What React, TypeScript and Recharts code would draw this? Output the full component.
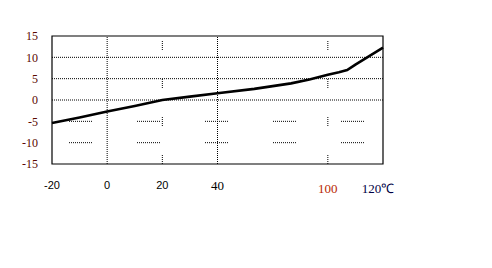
import React from "react";
import {
  LineChart,
  Line,
  XAxis,
  YAxis,
  ReferenceLine,
  ReferenceArea,
} from "recharts";

// temperature (°C) and reading along the curve
const temps = [-20, -10, 0, 10, 20, 30, 40, 60, 80, 90, 100, 104, 107, 110, 115, 120];
const values = [-5.4, -4.1, -2.7, -1.4, 0, 0.8, 1.6, 2.6, 3.9, 4.8, 5.9, 6.5, 7.0, 8.3, 10.3, 12.3];

// x axis is not linear: the ticks sit on equal slots, 40 -> 100 takes two
const xTickTemps = [-20, 0, 20, 40, 100, 120];
const xTickSlots = [0, 1, 2, 3, 5, 6];
const xTickLabels = ["-20", "0", "20", "40", "100", "120\u2103"];
const yTicks = [-15, -10, -5, 0, 5, 10, 15];

const toSlot = (t: number) => {
  for (let i = 0; i < xTickTemps.length - 1; i++) {
    const a = xTickTemps[i];
    const b = xTickTemps[i + 1];
    if (t <= b) return xTickSlots[i] + ((t - a) / (b - a)) * (xTickSlots[i + 1] - xTickSlots[i]);
  }
  return xTickSlots[xTickSlots.length - 1];
};

const data = temps.map((t, i) => ({ slot: toSlot(t), value: values[i] }));

const dots = (n: number, gap: number) => Array(n).fill("1 1").join(" ") + " 0 " + gap;

const XTick = (props: any) => {
  const { x, y, payload } = props;
  const i = xTickSlots.indexOf(payload.value);
  const label = xTickLabels[i];
  const serif = i >= 3;
  const low = i >= 4;
  const color = i === 4 ? "#b82800" : i === 5 ? "#000044" : "#000";
  return (
    <text
      x={x + (i === 5 ? -5 : 0)}
      y={y + (low ? 3 : 0)}
      dy="0.71em"
      textAnchor="middle"
      fill={color}
      fontSize={serif ? 13 : 11}
      fontFamily={serif ? "Liberation Serif, serif" : "Liberation Sans, Arial, sans-serif"}
    >
      {label}
    </text>
  );
};

const YTick = (props: any) => {
  const { x, y, payload } = props;
  return (
    <text
      x={x}
      y={y}
      dy="0.35em"
      textAnchor="end"
      fill="#5a0800"
      fontSize={12}
      fontFamily="Liberation Serif, serif"
    >
      {payload.value}
    </text>
  );
};

export default function App() {
  return (
    <div style={{ position: "absolute", left: 0, top: 0, background: "#fff" }}>
      <LineChart
        width={492}
        height={268}
        data={data}
        margin={{ top: 36, right: 109, bottom: 74, left: 0 }}
      >
        <XAxis
          dataKey="slot"
          type="number"
          domain={[0, 6]}
          ticks={xTickSlots}
          axisLine={false}
          tickLine={false}
          tickSize={0}
          tickMargin={17}
          height={30}
          tick={<XTick />}
          interval={0}
        />
        <YAxis
          type="number"
          domain={[-15, 15]}
          ticks={yTicks}
          axisLine={false}
          tickLine={false}
          tickSize={0}
          tickMargin={14}
          width={52}
          tick={<YTick />}
          interval={0}
        />
        {[10, 5, 0].map((v) => (
          <ReferenceLine key={"h" + v} y={v} stroke="#000" strokeDasharray="1 1" />
        ))}
        {[-5, -10].map((v) => (
          <ReferenceLine key={"h" + v} y={v} stroke="#000" strokeDasharray={"0 17 " + dots(12, 27)} />
        ))}
        {[1, 3].map((s) => (
          <ReferenceLine key={"v" + s} x={s} stroke="#000" strokeDasharray="1 1" />
        ))}
        {[2, 5].map((s) => (
          <ReferenceLine key={"v" + s} x={s} stroke="#000" strokeDasharray={dots(5, 28)} />
        ))}
        <ReferenceArea x1={0} x2={6} y1={-15} y2={15} fill="none" stroke="#000" strokeWidth={1.2} />
        <Line
          dataKey="value"
          type="linear"
          stroke="#000"
          strokeWidth={2.6}
          dot={false}
          isAnimationActive={false}
        />
      </LineChart>
    </div>
  );
}
